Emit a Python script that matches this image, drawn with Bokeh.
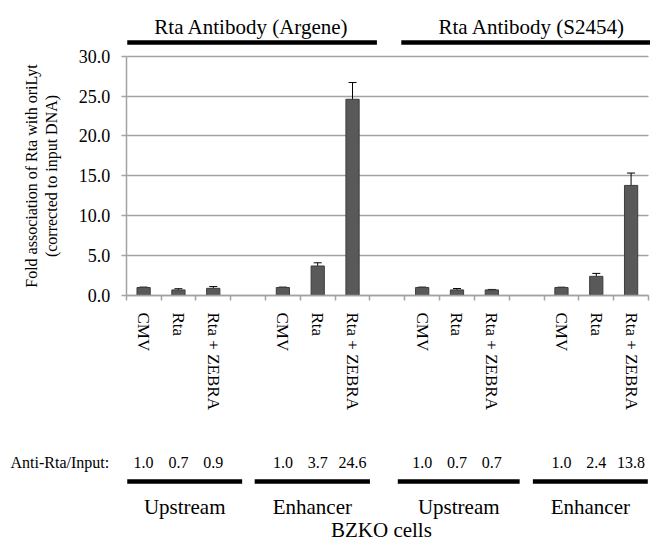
import numpy as np
from bokeh.plotting import figure
from bokeh.models import Range1d, FixedTicker, PrintfTickFormatter, Whisker, TeeHead, ColumnDataSource, Grid
from bokeh.core.properties import value
from bokeh.embed import file_html
from bokeh.resources import INLINE

# ---------------- data ----------------
antibodies = ["Rta Antibody (Argene)", "Rta Antibody (S2454)"]
regions = ["Upstream", "Enhancer", "Upstream", "Enhancer"]
conditions = ["CMV", "Rta", "Rta + ZEBRA"]
fold_argene_upstream = [1.0, 0.7, 0.9]
fold_argene_enhancer = [1.0, 3.7, 24.6]
fold_s2454_upstream = [1.0, 0.7, 0.7]
fold_s2454_enhancer = [1.0, 2.4, 13.8]
err_argene_upstream = [0.05, 0.15, 0.22]
err_argene_enhancer = [0.05, 0.40, 2.10]
err_s2454_upstream = [0.05, 0.17, 0.06]
err_s2454_enhancer = [0.04, 0.37, 1.55]
y_ticks = [0, 5, 10, 15, 20, 25, 30]
y_label = "Fold association of Rta with oriLyt\n(corrected to input DNA)"
row_label = "Anti-Rta/Input:"
cell_label = "BZKO cells"

groups_fold = [fold_argene_upstream, fold_argene_enhancer, fold_s2454_upstream, fold_s2454_enhancer]
groups_err = [err_argene_upstream, err_argene_enhancer, err_s2454_upstream, err_s2454_enhancer]

xs, tops, errs, labels = [], [], [], []
for g, (f, e) in enumerate(zip(groups_fold, groups_err)):
    for i in range(3):
        xs.append(g * 4 + i + 0.5)
        tops.append(f[i])
        errs.append(e[i])
        labels.append(conditions[i])
tops = np.array(tops)
errs = np.array(errs)

# ---------------- layout (canvas pixels -> data units) ----------------
FONTNAME = "Liberation Serif"
FONT = value(FONTNAME)
W, H = 650, 542
L, R = 125.7, 648          # x of plot area
Y0, Y30 = 295, 55.7        # y of value 0 and value 30
NS = 15                    # slots
S = (R - L) / NS
K = (Y0 - Y30) / 30.0
def sx(px):
    return (px - L) / S
def sy(py):
    return (Y0 - py) / K
GRID = "#a3a3a3"

p = figure(width=W, height=H, output_backend="svg", toolbar_location=None,
           x_range=Range1d(sx(0), sx(W)),
           y_range=Range1d(sy(H), sy(0)),
           min_border=0, min_border_left=0, min_border_right=0,
           min_border_top=0, min_border_bottom=0)
p.outline_line_color = None
p.background_fill_color = "white"
p.border_fill_color = "white"
p.xgrid.visible = False

yg = p.ygrid[0]
yg.ticker = FixedTicker(ticks=y_ticks)
yg.grid_line_color = GRID
yg.grid_line_width = 1.5
yg.bounds = (0, 30)
if "cross_bounds" in Grid.properties():
    yg.cross_bounds = (0, NS)
else:
    yg.visible = False
    p.segment(x0=0, x1=NS, y0=y_ticks, y1=y_ticks, line_color=GRID, line_width=1.5,
              level="underlay")

src = ColumnDataSource(dict(x=xs, top=tops, upper=tops + errs, lower=tops - errs,
                            lab=[f"{v:.1f}" for v in tops]))
p.vbar(x="x", top="top", width=0.38, source=src, fill_color="#595959",
       line_color="#3d3d3d", line_width=1)
p.add_layout(Whisker(source=src, base="x", upper="upper", lower="lower",
                     line_color="black", line_width=1,
                     upper_head=TeeHead(size=8, line_color="black", line_width=1),
                     lower_head=TeeHead(size=8, line_color="black", line_width=1)))

ya = p.yaxis[0]
ya.fixed_location = 0
ya.bounds = (0, 30)
ya.ticker = FixedTicker(ticks=y_ticks, minor_ticks=[])
ya.formatter = PrintfTickFormatter(format="%.1f")
ya.axis_line_color = GRID
ya.axis_line_width = 1.5
ya.major_tick_line_color = GRID
ya.major_tick_line_width = 1.5
ya.major_tick_out = 5
ya.major_tick_in = 0
ya.minor_tick_line_color = None
ya.major_label_text_font = FONTNAME
ya.major_label_text_font_size = "18px"
ya.major_label_text_color = "black"
ya.major_label_standoff = 11
ya.axis_label = y_label
ya.axis_label_text_font = FONTNAME
ya.axis_label_text_font_size = "16px"
ya.axis_label_text_font_style = "normal"
ya.axis_label_text_color = "black"
ya.axis_label_standoff = 16

xa = p.xaxis[0]
xa.fixed_location = 0
xa.bounds = (0, NS)
xa.ticker = FixedTicker(ticks=xs, minor_ticks=list(range(NS + 1)))
xa.major_label_overrides = {x: l for x, l in zip(xs, labels)}
xa.axis_line_color = GRID
xa.axis_line_width = 1.5
xa.major_tick_line_color = None
xa.major_tick_out = 0
xa.major_tick_in = 0
xa.minor_tick_line_color = GRID
xa.minor_tick_line_width = 1.5
xa.minor_tick_out = 5
xa.minor_tick_in = 0
xa.major_label_orientation = "vertical"
xa.major_label_text_font = FONTNAME
xa.major_label_text_font_size = "17px"
xa.major_label_text_color = "black"
xa.major_label_standoff = 12

# header: antibody spans
h0 = [0.03, 7.9]
h1 = [7.2, 15.3]
p.segment(x0=h0, x1=h1, y0=sy(42), y1=sy(42), line_color="black", line_width=4.5,
          line_cap="butt")
p.text(x=[3.6, 11.65], y=sy(26), text=antibodies, text_font=FONT,
       text_font_size=value("21px"), text_align="center", text_baseline="middle",
       text_color="black")

# bottom rows
p.text(x=[sx(10)], y=sy(461.7), text=[row_label], text_font=FONT,
       text_font_size=value("16px"), text_align="left", text_baseline="middle",
       text_color="black")
p.text(x="x", y=sy(461.7), text="lab", source=src, text_font=FONT,
       text_font_size=value("16px"), text_align="center", text_baseline="middle",
       text_color="black")
u0 = [0.03, 3.69, 7.8, 11.68]
u1 = [3.33, 7.0, 11.3, 14.98]
p.segment(x0=u0, x1=u1, y0=sy(481), y1=sy(481), line_color="black",
          line_width=4.5, line_cap="butt")
p.text(x=[(a + b) / 2 for a, b in zip(u0, u1)], y=sy(506.5), text=regions,
       text_font=FONT, text_font_size=value("21px"), text_align="center",
       text_baseline="middle", text_color="black")
p.text(x=[7.33], y=sy(529), text=[cell_label], text_font=FONT,
       text_font_size=value("21px"), text_align="center", text_baseline="middle",
       text_color="black")

open("out.html", "w").write(file_html(p, INLINE))
